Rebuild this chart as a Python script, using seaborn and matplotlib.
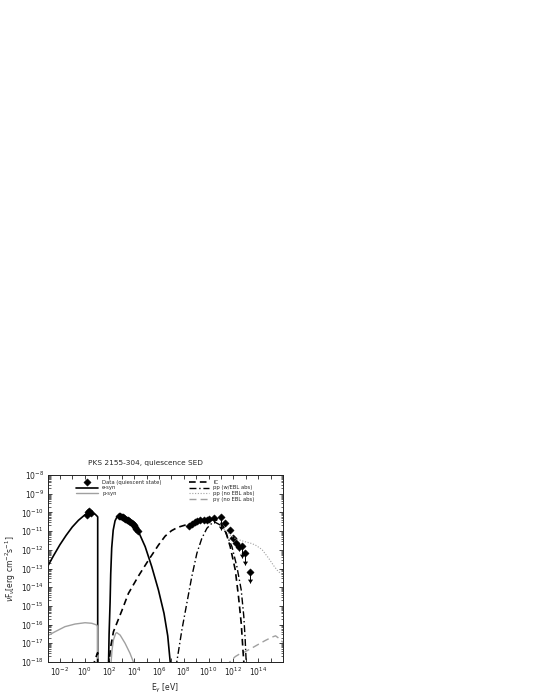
#!/usr/bin/env python3
"""SED of PKS 2155-304 in the quiescent state, leptohadronic model components."""

import numpy as np
import pandas as pd

import matplotlib
matplotlib.use("Agg")
import matplotlib.pyplot as plt
from matplotlib.ticker import FixedLocator, FuncFormatter, LogLocator, NullFormatter
import seaborn as sns

# all values are log10(E / eV), log10(nuFnu / erg cm^-2 s^-1)
ESYN1_E = [-3.0, -2.5, -2.0, -1.5, -1.0, -0.5, 0.0, 0.3, 0.6, 0.85, 1.03, 1.05, 1.05]
ESYN1_F = [-12.9, -12.3, -11.73, -11.23, -10.78, -10.42, -10.14, -10.03, -10.03, -10.1, -10.22, -10.25, -19.0]
ESYN2_E = [1.9, 1.97, 2.05, 2.1, 2.18, 2.3, 2.45, 2.6, 2.8, 3.0, 3.5, 4.0, 4.34, 4.88, 5.41, 5.95, 6.4, 6.7, 6.9, 6.95]
ESYN2_F = [-19.0, -16.5, -14.8, -13.3, -11.9, -10.95, -10.45, -10.25, -10.17, -10.2, -10.4, -10.72, -11.03, -11.83, -12.9, -14.15, -15.4, -16.6, -18.0, -18.3]

PSYN1_E = [-3.0, -2.39, -1.59, -0.78, 0.03, 0.57, 0.97, 1.05, 1.05]
PSYN1_F = [-16.6, -16.38, -16.11, -15.97, -15.9, -15.93, -16.02, -16.1, -19.0]
PSYN2_E = [2.1, 2.2, 2.32, 2.5, 2.59, 2.86, 3.26, 3.66, 3.93, 4.0]
PSYN2_F = [-18.3, -17.4, -16.82, -16.47, -16.43, -16.56, -17.0, -17.54, -18.0, -18.2]

IC1_E = [0.72, 0.78, 0.97, 1.05, 1.05]
IC1_F = [-18.3, -18.0, -17.63, -17.5, -19.0]
IC2_E = [1.95, 1.97, 2.1, 2.32, 2.59, 3.0, 3.53, 4.34, 5.15, 5.95, 6.49, 7.0, 7.5, 8.1, 8.5, 9.2,
         10.0, 10.5, 10.93, 11.34, 11.74, 12.15, 12.41, 12.63, 12.77, 12.84, 12.86]
IC2_F = [-18.3, -17.98, -17.18, -16.38, -15.93, -15.25, -14.33, -13.4, -12.55, -11.75, -11.27, -10.98,
         -10.8, -10.68, -10.62, -10.5, -10.41, -10.37, -10.5, -10.94, -11.83, -13.08, -14.5, -15.93,
         -17.36, -18.0, -18.3]

PP_E = [7.38, 7.43, 7.84, 8.24, 8.64, 9.05, 9.45, 9.86, 10.26, 10.53, 10.93, 11.34, 11.88,
        12.28, 12.63, 12.84, 12.95, 13.03, 13.05]
PP_F = [-18.3, -18.0, -16.29, -14.86, -13.44, -12.19, -11.39, -10.85, -10.58, -10.53, -10.67,
        -11.03, -11.83, -12.9, -14.15, -15.58, -16.82, -18.0, -18.3]

PP_NOEBL_E = [10.93, 11.34, 11.7, 12.15, 12.6, 12.95, 13.4, 13.76, 14.3, 14.84, 15.25, 15.6, 16.0]
PP_NOEBL_F = [-10.67, -10.98, -11.2, -11.39, -11.5, -11.57, -11.65, -11.74, -11.98, -12.45, -12.85, -13.15, -13.35]

PG_E = [11.6, 11.7, 12.15, 12.55, 12.95, 13.5, 14.03, 14.57, 15.11, 15.4, 15.7, 16.0]
PG_F = [-18.3, -18.0, -17.71, -17.55, -17.45, -17.25, -17.05, -16.85, -16.67, -16.6, -16.75, -16.95]

# data (quiescent state)
DATA_E = [0.17, 0.3, 0.38, 0.49,
          2.78, 2.88, 2.98, 3.08, 3.18, 3.28, 3.38, 3.48, 3.58, 3.68, 3.78, 3.88, 3.98, 4.08, 4.18, 4.28,
          8.44, 8.65, 8.86, 9.05, 9.32, 9.59, 9.86, 10.0]
DATA_F = [-10.14, -10.0, -9.92, -10.05,
          -10.19, -10.2, -10.23, -10.26, -10.3, -10.34, -10.38, -10.42, -10.47, -10.52, -10.58, -10.64,
          -10.7, -10.78, -10.87, -10.98,
          -10.73, -10.62, -10.53, -10.44, -10.41, -10.41, -10.41, -10.37]

TEV_E = [10.47, 11.0, 11.36, 11.7, 12.0, 12.2, 12.45, 12.68, 12.95, 13.3]
TEV_F = [-10.28, -10.23, -10.58, -10.95, -11.38, -11.65, -11.83, -11.78, -12.17, -13.2]
TEV_LOW = [-10.58, -10.94, -10.75, -11.1, -11.55, -11.85, -12.05, -12.45, -12.8, -13.8]
TEV_UL = [False, True, False, False, False, False, False, True, True, True]

GREY = "#a0a0a0"


def line(ax, e, f, **kw):
    df = pd.DataFrame({"E": np.power(10.0, e), "F": np.power(10.0, f)})
    sns.lineplot(data=df, x="E", y="F", ax=ax, sort=False, estimator=None, **kw)


def main() -> None:
    sns.set_theme(style="ticks")
    plt.rcParams.update({
        "font.family": ["DejaVu Sans"],
        "xtick.direction": "in",
        "ytick.direction": "in",
        "xtick.top": True,
        "ytick.right": True,
        "axes.linewidth": 0.7,
        "axes.edgecolor": "#222222",
        "figure.facecolor": "white",
        "axes.facecolor": "white",
    })

    fig = plt.figure(figsize=(5.38, 6.97), dpi=100)
    ax = fig.add_axes([47.5 / 538, 35 / 697, 235.5 / 538, 187 / 697])

    line(ax, ESYN1_E, ESYN1_F, color="black", lw=1.2, label="e-syn")
    line(ax, ESYN2_E, ESYN2_F, color="black", lw=1.2)
    line(ax, PSYN1_E, PSYN1_F, color=GREY, lw=1.0, label="p-syn")
    line(ax, PSYN2_E, PSYN2_F, color=GREY, lw=1.0)
    line(ax, PP_NOEBL_E, PP_NOEBL_F, color=GREY, lw=0.8, linestyle=(0, (1, 1.5)), label="pp (no EBL abs)")
    line(ax, PG_E, PG_F, color=GREY, lw=1.0, linestyle=(0, (5, 3)), label="p\u03b3 (no EBL abs)")
    line(ax, IC1_E, IC1_F, color="black", lw=1.2, linestyle=(0, (4, 2.5)))
    line(ax, IC2_E, IC2_F, color="black", lw=1.2, linestyle=(0, (4, 2.5)), label="IC")
    line(ax, PP_E, PP_F, color="black", lw=1.0, linestyle=(0, (5, 2, 1, 2)), label="pp (w/EBL abs)")

    tev_e = np.power(10.0, TEV_E)
    tev_f = np.power(10.0, TEV_F)
    tev_low = np.power(10.0, TEV_LOW)
    ax.vlines(tev_e, tev_low, tev_f, color="black", lw=0.7)
    ul = np.array(TEV_UL)
    ax.scatter(tev_e[ul], tev_low[ul], marker=7, s=14, color="black", lw=0)
    sns.scatterplot(x=np.power(10.0, DATA_E), y=np.power(10.0, DATA_F), ax=ax, marker="D",
                    s=14, color="black", edgecolor="black", linewidth=0.3, label="Data (quiescent state)")
    sns.scatterplot(x=tev_e, y=tev_f, ax=ax, marker="D", s=14, color="black",
                    edgecolor="black", linewidth=0.3)

    ax.set_xscale("log")
    ax.set_yscale("log")
    ax.set_xlim(1e-3, 1e16)
    ax.set_ylim(1e-18, 1e-8)

    ax.xaxis.set_major_locator(FixedLocator([10.0 ** k for k in range(-3, 16)]))
    ax.xaxis.set_major_formatter(FuncFormatter(
        lambda v, p: f"$10^{{{int(round(np.log10(v)))}}}$" if int(round(np.log10(v))) % 2 == 0 else ""))
    ax.xaxis.set_minor_locator(FixedLocator([]))
    ax.yaxis.set_major_locator(FixedLocator([10.0 ** k for k in range(-18, -7)]))
    ax.yaxis.set_major_formatter(FuncFormatter(lambda v, p: f"$10^{{{int(round(np.log10(v)))}}}$"))
    ax.yaxis.set_minor_locator(LogLocator(base=10, subs=np.arange(2, 10), numticks=30))
    ax.yaxis.set_minor_formatter(NullFormatter())
    ax.tick_params(which="major", length=3.2, width=0.6, labelsize=5.5, pad=2.5, colors="#222222")
    ax.tick_params(which="minor", length=1.8, width=0.5)

    ax.set_xlabel("E$_\\gamma$ [eV]", fontsize=5.5, labelpad=3)
    ax.set_ylabel("$\\nu$F$_\\nu$[erg cm$^{-2}$s$^{-1}$]", fontsize=5.5, labelpad=2)
    ax.set_title("PKS 2155-304, quiescence SED", fontsize=5.3, x=0.414, pad=7)

    handles, labels = ax.get_legend_handles_labels()
    lookup = dict(zip(labels, handles))
    left = ["Data (quiescent state)", "e-syn", "p-syn"]
    right = ["IC", "pp (w/EBL abs)", "pp (no EBL abs)", "p\u03b3 (no EBL abs)"]
    leg1 = ax.legend([lookup[k] for k in left], left, loc="upper left", bbox_to_anchor=(0.12, 0.975),
                     frameon=False, fontsize=3.8, handlelength=4.2, handletextpad=0.8,
                     labelspacing=0.15, borderpad=0, borderaxespad=0)
    ax.add_artist(leg1)
    ax.legend([lookup[k] for k in right], right, loc="upper left", bbox_to_anchor=(0.6, 0.975),
              frameon=False, fontsize=3.8, handlelength=3.8, handletextpad=0.8,
              labelspacing=0.15, borderpad=0, borderaxespad=0)

    fig.savefig("out.png", dpi=100)
    plt.close(fig)


if __name__ == "__main__":
    main()
